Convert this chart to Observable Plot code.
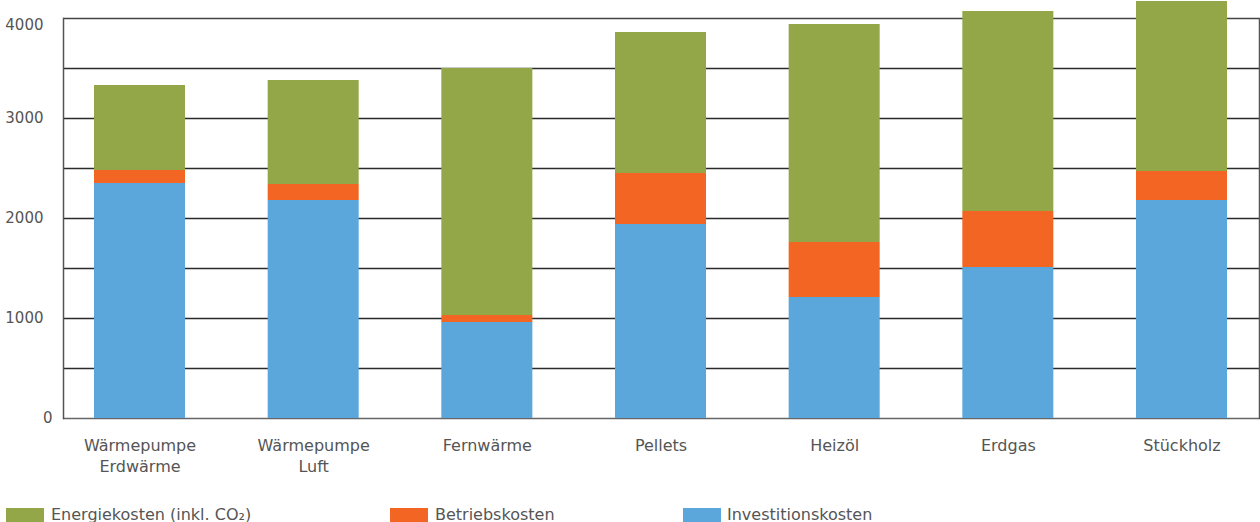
<!DOCTYPE html>
<html>
<head>
<meta charset="utf-8">
<script src="https://cdn.jsdelivr.net/npm/d3@7"></script>
<script src="https://cdn.jsdelivr.net/npm/@observablehq/plot@0.6"></script>
<style>
  html, body { margin: 0; padding: 0; background: #fff; }
  #wrap { position: relative; width: 1260px; height: 522px; overflow: hidden; font-family: "DejaVu Sans", sans-serif; color: #555; }
  #chart { position: absolute; left: 0; top: 0; }
  .sw { position: absolute; top: 508px; width: 38px; height: 16px; }
  .lt { position: absolute; top: 507px; font-size: 16px; line-height: 16px; white-space: nowrap; }
</style>
</head>
<body>
<div id="wrap">
  <div id="chart"></div>
  <div id="legend"></div>
</div>
<script>
const categories = ["Wärmepumpe\nErdwärme", "Wärmepumpe\nLuft", "Fernwärme", "Pellets", "Heizöl", "Erdgas", "Stückholz"];
const investitionskosten = [2350, 2180, 960, 1940, 1210, 1510, 2180];
const betriebskosten = [130, 160, 70, 510, 550, 560, 290];
const energiekosten = [850, 1040, 2470, 1410, 2180, 2000, 1700];
const seriesNames = ["Investitionskosten", "Betriebskosten", "Energiekosten (inkl. CO₂)"];
const seriesColors = ["#5ba7db", "#f26522", "#93a749"];
const legendOrder = ["Energiekosten (inkl. CO₂)", "Betriebskosten", "Investitionskosten"];
const yLabelTicks = [1000, 2000, 3000];
const gridTicks = [500, 1000, 1500, 2000, 2500, 3000, 3500];

const seriesValues = [investitionskosten, betriebskosten, energiekosten];
const rows = [];
categories.forEach((c, i) => {
  seriesNames.forEach((s, j) => rows.push({cat: c, series: s, value: seriesValues[j][i], order: j}));
});

const fmt = d => String(d);
const chart = Plot.plot({
  width: 1260,
  height: 498,
  marginLeft: 63,
  marginRight: 1,
  marginTop: 18,
  marginBottom: 80,
  style: {fontFamily: "DejaVu Sans, sans-serif", color: "#555", background: "transparent"},
  x: {type: "band", domain: categories, range: [52.67, 1268.33], paddingInner: 0.476, paddingOuter: 0.238, round: false, axis: null},
  y: {domain: [0, 4000], axis: null},
  color: {domain: seriesNames, range: seriesColors},
  marks: [
    Plot.ruleY(gridTicks, {stroke: "#2b2b2b", strokeWidth: 1.3}),
    Plot.ruleY([0], {stroke: "#666", strokeWidth: 1.5}),
    Plot.ruleY([4000], {stroke: "#444", strokeWidth: 1.5}),
    Plot.frame({stroke: "#555", strokeWidth: 1.5, anchor: "left"}),
    Plot.frame({stroke: "#555", strokeWidth: 1.5, anchor: "right"}),
    Plot.barY(rows, Plot.stackY({x: "cat", y: "value", fill: "series", order: "order"})),
    Plot.axisY(yLabelTicks, {tickSize: 0, tickPadding: 20, fontSize: 15, fill: "#555", tickFormat: fmt, label: null}),
    Plot.axisY([4000], {tickSize: 0, tickPadding: 20, fontSize: 15, fill: "#555", dy: 7, tickFormat: fmt, label: null}),
    Plot.axisY([0], {tickSize: 0, tickPadding: 11, fontSize: 15, fill: "#555", tickFormat: fmt, label: null}),
    Plot.text(categories, {x: d => d, text: d => d, frameAnchor: "bottom", lineAnchor: "top", dy: 18, lineHeight: 1.3125, fontSize: 16, fill: "#555"})
  ]
});
document.getElementById("chart").appendChild(chart);

const legendSw = [6, 390, 683];
const legendTx = [51, 435, 727];
const legend = document.getElementById("legend");
legendOrder.forEach((name, i) => {
  const sw = document.createElement("div");
  sw.className = "sw";
  sw.style.left = legendSw[i] + "px";
  sw.style.background = seriesColors[seriesNames.indexOf(name)];
  legend.appendChild(sw);
  const t = document.createElement("div");
  t.className = "lt";
  t.style.left = legendTx[i] + "px";
  t.textContent = name;
  legend.appendChild(t);
});
</script>
</body>
</html>
